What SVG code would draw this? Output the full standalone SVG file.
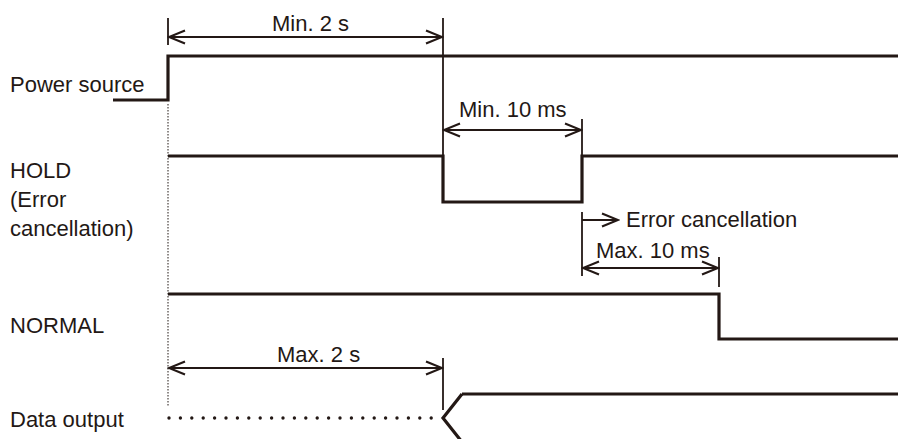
<svg xmlns="http://www.w3.org/2000/svg" width="898" height="439" viewBox="0 0 898 439">
<style>
text{font-family:"Liberation Sans",Arial,sans-serif;font-size:22px;fill:#231815}
.sig{fill:none;stroke:#231815;stroke-width:3.2;stroke-linejoin:miter;stroke-linecap:butt}
.dim{fill:none;stroke:#231815;stroke-width:1.8}
.arr{fill:none;stroke:#231815;stroke-width:1.8;marker-start:url(#ah);marker-end:url(#ah)}
.arr1{fill:none;stroke:#231815;stroke-width:1.8;marker-end:url(#ah)}
</style>
<defs>
<marker id="ah" markerUnits="userSpaceOnUse" markerWidth="20" markerHeight="16" viewBox="-18 -8 20 16" refX="0" refY="0" orient="auto-start-reverse">
<path d="M-16 -6.5 L0 0 L-16 6.5" fill="none" stroke="#231815" stroke-width="2.2"/>
</marker>
</defs>
<rect width="898" height="439" fill="#ffffff"/>
<g id="labels">
<text x="10" y="92">Power source</text>
<text x="10" y="178">HOLD</text>
<text x="10" y="207">(Error</text>
<text x="10" y="236">cancellation)</text>
<text x="10" y="333">NORMAL</text>
<text x="10" y="427">Data output</text>
</g>
<g id="power-source">
<path class="sig" d="M113 100 H168 V56 H898"/>
</g>
<g id="hold">
<path class="sig" d="M168 156 H443 V202 H582 V156 H898"/>
</g>
<g id="normal">
<path class="sig" d="M168 294 H719 V339 H898"/>
</g>
<g id="data-output">
<path d="M169 418 H440" fill="none" stroke="#231815" stroke-width="3.4" stroke-linecap="round" stroke-dasharray="0 11.4"/>
<path class="sig" d="M462 394 L443 418 L462 442"/>
<path class="sig" d="M462 394 H898"/>
</g>
<g id="connectors">
<line x1="168" y1="104" x2="168" y2="406" stroke="#231815" stroke-width="1" stroke-dasharray="1.5 1.5"/>
<line class="dim" x1="168" y1="18" x2="168" y2="45"/>
<line class="dim" x1="443" y1="18" x2="443" y2="156"/>
<line class="arr" x1="169" y1="37" x2="442" y2="37"/>
<text x="272" y="31">Min. 2 s</text>
<line class="dim" x1="582" y1="119" x2="582" y2="156"/>
<line class="arr" x1="444" y1="130" x2="581" y2="130"/>
<text x="459" y="117">Min. 10 ms</text>
<line class="dim" x1="582" y1="212" x2="582" y2="276"/>
<line class="arr1" x1="582" y1="220" x2="618" y2="220"/>
<text x="626" y="227">Error cancellation</text>
<line class="dim" x1="719" y1="257" x2="719" y2="287"/>
<line class="arr" x1="583" y1="268" x2="718" y2="268"/>
<text x="596" y="258">Max. 10 ms</text>
<line class="dim" x1="443" y1="358" x2="443" y2="410"/>
<line class="arr" x1="169" y1="368" x2="442" y2="368"/>
<text x="277" y="362">Max. 2 s</text>
</g>
</svg>
